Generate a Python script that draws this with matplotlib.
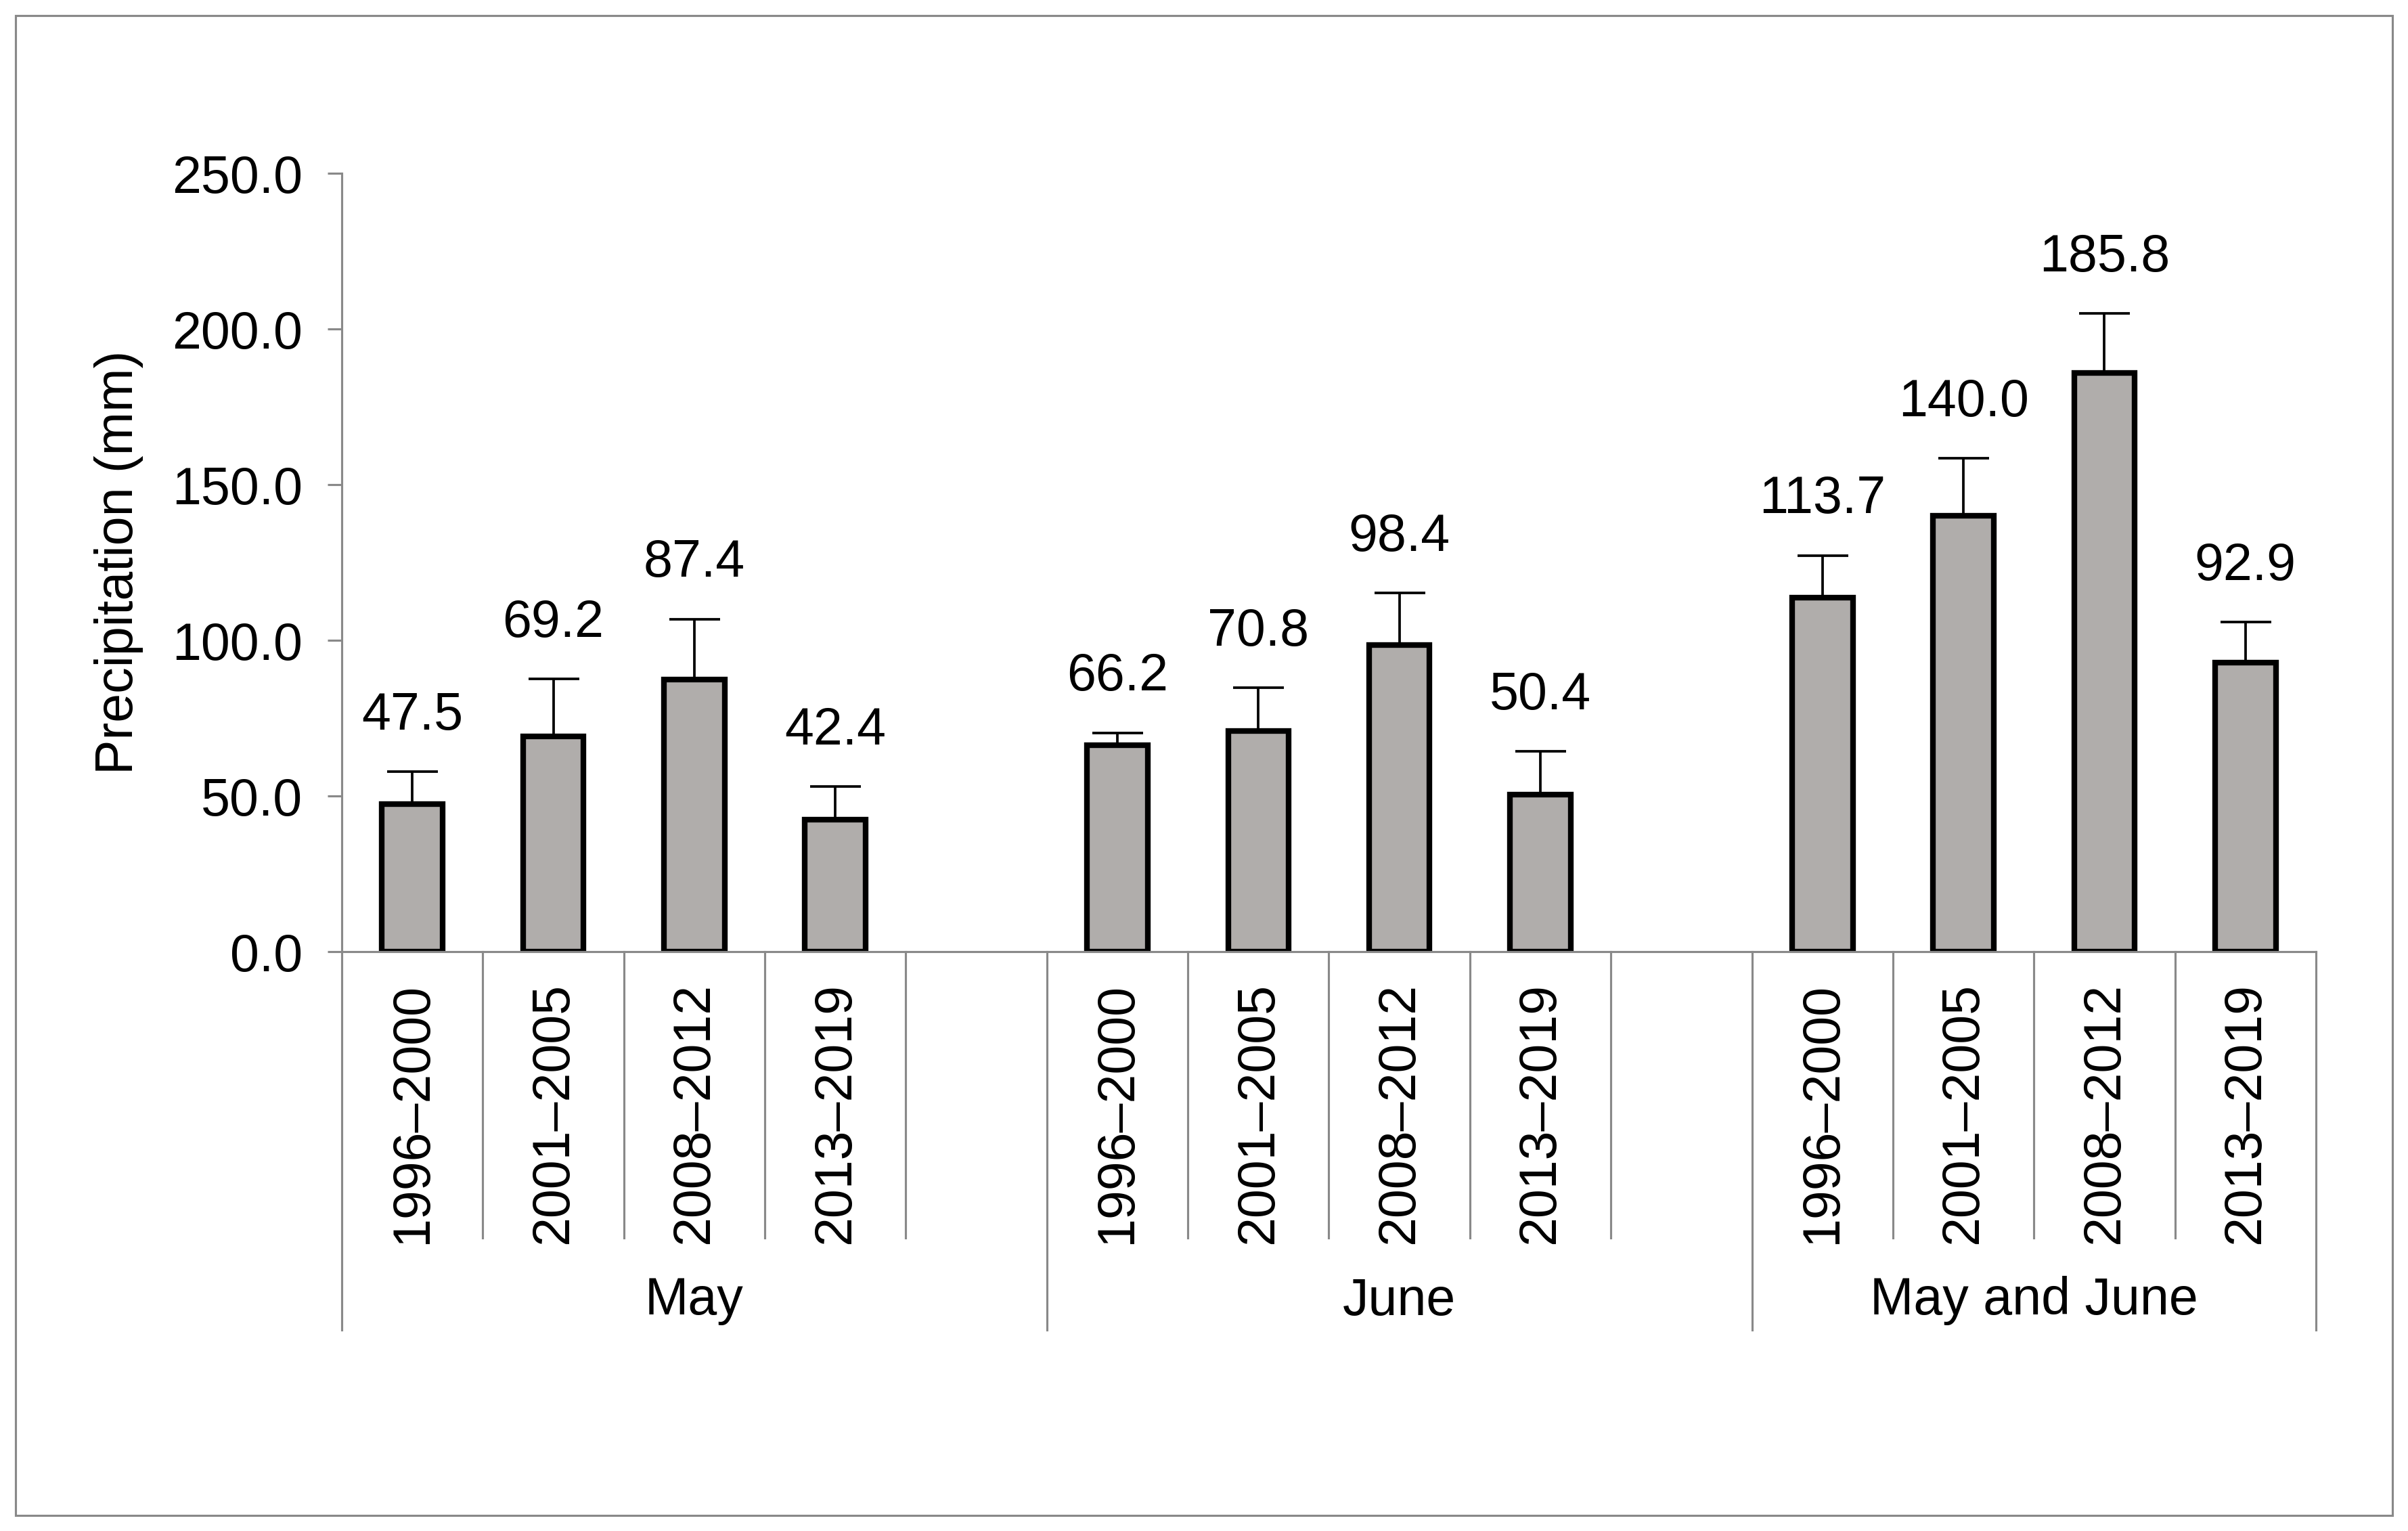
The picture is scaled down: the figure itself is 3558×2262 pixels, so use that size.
import matplotlib.pyplot as plt
from matplotlib.patches import Rectangle
from matplotlib.transforms import blended_transform_factory

plt.rcParams['font.family'] = ['Liberation Sans', 'DejaVu Sans']

# 数据
groups = ["May", "June", "May and June"]
periods = ["1996\u20132000", "2001\u20132005", "2008\u20132012", "2013\u20132019"]
may_values = [47.5, 69.2, 87.4, 42.4]
may_errors = [10.3, 18.4, 19.4, 10.6]
june_values = [66.2, 70.8, 98.4, 50.4]
june_errors = [4.1, 13.9, 16.8, 13.9]
both_values = [113.7, 140.0, 185.8, 92.9]
both_errors = [13.5, 18.4, 19.2, 12.9]

y_ticks = [0, 50, 100, 150, 200, 250]

axis_gray = "#898989"
bar_gray = "#B0ADAB"
font_size = 18.5

fig = plt.figure(figsize=(3558 / 300, 2262 / 300), dpi=300)
ax = fig.add_axes([505 / 3558, 1 - 1406 / 2262, (3422 - 505) / 3558, (1406 - 256) / 2262])

# 每组 5 个位置（最后一组 4 个），第 5 个位置留空
group_starts = [0, 5, 10]
all_values = [may_values, june_values, both_values]
all_errors = [may_errors, june_errors, both_errors]

for start, values, errors in zip(group_starts, all_values, all_errors):
    xs = [start + i + 0.5 for i in range(len(values))]
    ax.bar(xs, values, width=0.43, color=bar_gray, edgecolor="black", linewidth=2.0, zorder=2)
    ax.errorbar(xs, values, yerr=[[0] * len(values), errors], fmt="none", ecolor="black",
                elinewidth=0.9, capsize=9, capthick=0.9, zorder=3)
    for x, v, e in zip(xs, values, errors):
        ax.annotate("{0:.1f}".format(v), (x, v + e), xytext=(0, 15), textcoords="offset points",
                    ha="center", va="baseline", fontsize=font_size)

ax.set_xlim(0, 14)
ax.set_ylim(0, 250)
ax.set_yticks(y_ticks)
ax.set_yticklabels(["{0:.1f}".format(t) for t in y_ticks], fontsize=font_size)
ax.set_ylabel("Precipitation (mm)", fontsize=font_size, labelpad=10)
ax.set_xticks([])

for side in ["top", "right"]:
    ax.spines[side].set_visible(False)
for side in ["left", "bottom"]:
    ax.spines[side].set_color(axis_gray)
    ax.spines[side].set_linewidth(0.75)
ax.tick_params(axis="y", colors=axis_gray, length=5, width=0.75, labelcolor="black", pad=9)

# 分类轴的分隔线和标签
trans = blended_transform_factory(ax.transData, ax.transAxes)
short_bottom = (1406 - 1829) / 1150
long_bottom = (1406 - 1965) / 1150
group_ends = [5, 10, 14]

for start, end, name, values in zip(group_starts, group_ends, groups, all_values):
    ax.plot([start, start], [0, long_bottom], color=axis_gray, lw=0.75, transform=trans, clip_on=False)
    for k in range(start + 1, end):
        ax.plot([k, k], [0, short_bottom], color=axis_gray, lw=0.75, transform=trans, clip_on=False)
    for i in range(len(values)):
        ax.text(start + i + 0.5, -0.040, periods[i], rotation=90, ha="center", va="top",
                fontsize=font_size, transform=trans)
    ax.text((start + end) / 2.0, (1406 - 1922) / 1150, name, ha="center", va="center",
            fontsize=font_size, transform=trans)
ax.plot([14, 14], [0, long_bottom], color=axis_gray, lw=0.75, transform=trans, clip_on=False)

# 外框
fig.patches.append(Rectangle((23 / 3558, 23 / 2262), 1 - 46 / 3558, 1 - 46 / 2262,
                             transform=fig.transFigure, fill=False, edgecolor=axis_gray, lw=0.75))

fig.savefig("out.png", dpi=300)
